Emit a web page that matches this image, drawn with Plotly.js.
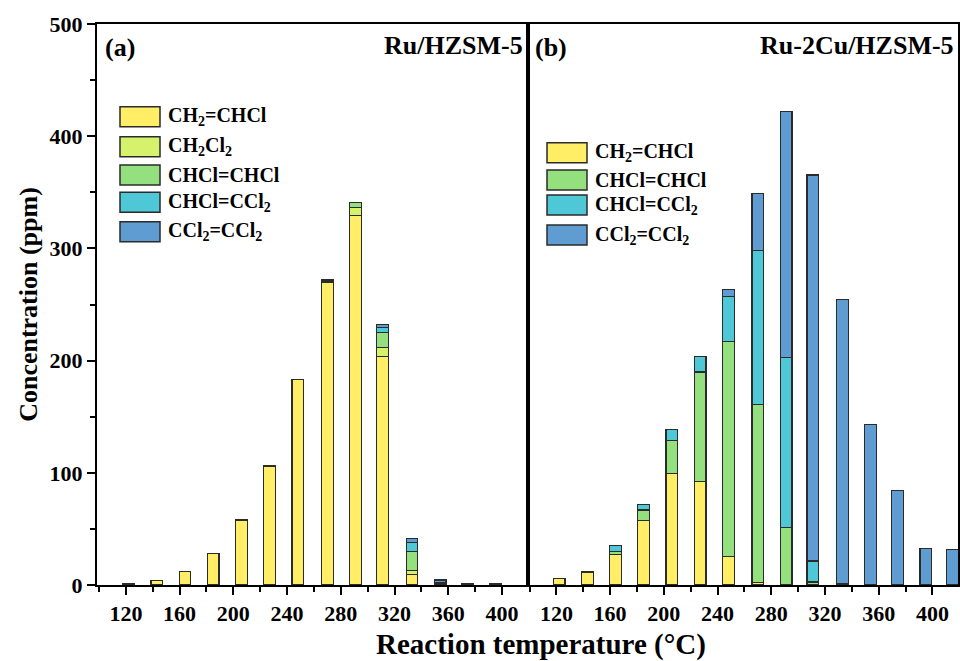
<!DOCTYPE html>
<html>
<head>
<meta charset="utf-8">
<script src="https://cdn.plot.ly/plotly-3.0.1.min.js"></script>
<style>html,body{margin:0;padding:0;background:#fff;}#chart{width:960px;height:661px;}</style>
</head>
<body>
<div id="chart"></div>
<script>
// Reaction temperatures (°C), bar positions
const temps = [122, 143, 164, 185, 206, 227, 248, 270, 291, 311, 333, 354, 374, 395, 415];

// Panel (a) Ru/HZSM-5, concentrations (ppm)
const a_CH2CHCl   = [1, 4, 12, 28, 58, 106, 183, 270, 329, 204, 9.5, 0, 0, 0, 0];
const a_CH2Cl2    = [0, 0, 0, 0, 0, 0, 0, 1, 7.4, 8, 3.6, 0, 0, 0, 0];
const a_CHClCHCl  = [0, 0, 0, 0, 0, 0, 0, 1.5, 4.5, 13.4, 16.6, 1, 0, 0, 0];
const a_CHClCCl2  = [0, 0, 0, 0, 0, 0, 0, 0, 0, 3.8, 8, 1.5, 0, 0, 0];
const a_CCl2CCl2  = [0, 0, 0, 0, 0, 0, 0, 0, 0, 3, 3.9, 2, 1.6, 1.3, 0];

// Panel (b) Ru-2Cu/HZSM-5, concentrations (ppm)
const b_CH2CHCl   = [6, 11, 27, 57.7, 99.2, 92.4, 25.6, 2, 0, 0, 0, 0, 0, 0, 0];
const b_CHClCHCl  = [0, 1.2, 3, 9.2, 29.5, 97.4, 191.6, 159, 51, 2.7, 0, 0, 0, 0, 0];
const b_CHClCCl2  = [0, 0, 5.5, 4.5, 10.1, 13.7, 40.1, 137.3, 151.8, 18.7, 1.2, 0, 0, 0, 0];
const b_CCl2CCl2  = [0, 0, 0, 0, 0, 0, 6.2, 50.8, 218.9, 344, 253.4, 142.9, 84.4, 32.4, 31.8];

const names = {
  CH2CHCl: 'CH<sub>2</sub>=CHCl',
  CH2Cl2: 'CH<sub>2</sub>Cl<sub>2</sub>',
  CHClCHCl: 'CHCl=CHCl',
  CHClCCl2: 'CHCl=CCl<sub>2</sub>',
  CCl2CCl2: 'CCl<sub>2</sub>=CCl<sub>2</sub>'
};
const colors = {
  CH2CHCl: '#FFEE66',
  CH2Cl2: '#D6F26C',
  CHClCHCl: '#94DF7E',
  CHClCCl2: '#4EC7D6',
  CCl2CCl2: '#5F9CD1'
};
const edge = '#2b2b2b';
const barW = 8.7;

function nz(arr){ return arr.map(v => v === 0 ? null : v); }
function bar(key, vals, xa, ya){
  return {
    type: 'bar', x: temps, y: nz(vals), name: names[key],
    xaxis: xa, yaxis: ya, width: barW, showlegend: false,
    marker: {color: colors[key], line: {color: edge, width: 1.2}},
    hoverinfo: 'x+y+name'
  };
}

const data = [
  bar('CH2CHCl', a_CH2CHCl, 'x', 'y'),
  bar('CH2Cl2', a_CH2Cl2, 'x', 'y'),
  bar('CHClCHCl', a_CHClCHCl, 'x', 'y'),
  bar('CHClCCl2', a_CHClCCl2, 'x', 'y'),
  bar('CCl2CCl2', a_CCl2CCl2, 'x', 'y'),
  bar('CH2CHCl', b_CH2CHCl, 'x2', 'y2'),
  bar('CHClCHCl', b_CHClCHCl, 'x2', 'y2'),
  bar('CHClCCl2', b_CHClCCl2, 'x2', 'y2'),
  bar('CCl2CCl2', b_CCl2CCl2, 'x2', 'y2')
];

// Layout helpers (pixel -> paper)
const L = 97, R = 2, T = 24, B = 76, W = 960, H = 661;
const PW = W - L - R, PH = H - T - B;
const px = x => (x - L) / PW;
const py = y => (H - B - y) / PH;

const serif = 'Liberation Serif, Times New Roman, serif';
const tickFont = {family: serif, size: 22, color: '#000', weight: 'bold'};

const xBase = {
  range: [98.5, 419], tick0: 0, dtick: 40, ticks: 'outside', ticklen: 8, tickwidth: 2,
  tickcolor: '#000', showline: true, linecolor: '#000', linewidth: 2, mirror: true,
  showgrid: false, zeroline: false, tickfont: tickFont,
  minor: {dtick: 20, ticks: 'outside', ticklen: 5, tickwidth: 2, tickcolor: '#000', showgrid: false}
};

const shapes = [];
const annotations = [];

function legend(items, x0, yCenters){
  items.forEach((k, i) => {
    const yc = yCenters[i];
    shapes.push({type: 'rect', xref: 'paper', yref: 'paper',
      x0: px(x0), x1: px(x0 + 40), y0: py(yc + 10), y1: py(yc - 10),
      fillcolor: colors[k], line: {color: edge, width: 1.5}});
    annotations.push({xref: 'paper', yref: 'paper', x: px(x0 + 46), y: py(yc),
      xanchor: 'left', yanchor: 'middle', showarrow: false, text: names[k],
      font: {family: serif, size: 20, color: '#000', weight: 'bold'}});
  });
}
legend(['CH2CHCl', 'CH2Cl2', 'CHClCHCl', 'CHClCCl2', 'CCl2CCl2'], 120, [116.7, 146.7, 175, 202.3, 231.7]);
legend(['CH2CHCl', 'CHClCHCl', 'CHClCCl2', 'CCl2CCl2'], 547, [152.7, 180, 205, 235]);

const labFont = {family: serif, size: 26, color: '#000', weight: 'bold'};
annotations.push({xref: 'paper', yref: 'paper', x: px(103), y: py(47), xanchor: 'left', yanchor: 'middle', showarrow: false, text: '(a)', font: labFont});
annotations.push({xref: 'paper', yref: 'paper', x: px(525), y: py(45), xanchor: 'right', yanchor: 'middle', showarrow: false, text: 'Ru/HZSM-5', font: labFont});
annotations.push({xref: 'paper', yref: 'paper', x: px(533), y: py(47), xanchor: 'left', yanchor: 'middle', showarrow: false, text: '(b)', font: labFont});
annotations.push({xref: 'paper', yref: 'paper', x: px(956), y: py(45), xanchor: 'right', yanchor: 'middle', showarrow: false, text: 'Ru-2Cu/HZSM-5', font: labFont});
// shared x-axis title
annotations.push({xref: 'paper', yref: 'paper', x: px(541), y: py(644), xanchor: 'center', yanchor: 'middle', showarrow: false,
  text: 'Reaction temperature (°C)', font: {family: serif, size: 29, color: '#000', weight: 'bold'}});

const layout = {
  width: W, height: H,
  margin: {l: L, r: R, t: T, b: B, pad: 0},
  paper_bgcolor: '#fff', plot_bgcolor: '#fff',
  barmode: 'stack', bargap: 0,
  showlegend: false,
  xaxis: Object.assign({}, xBase, {domain: [0, 0.5], anchor: 'y'}),
  xaxis2: Object.assign({}, xBase, {domain: [0.5, 1], anchor: 'y2'}),
  yaxis: {
    domain: [0, 1], range: [0, 500], dtick: 100, ticks: 'outside', ticklen: 8, tickwidth: 2,
    tickcolor: '#000', showline: true, linecolor: '#000', linewidth: 2, mirror: true,
    showgrid: false, zeroline: false, tickfont: tickFont, anchor: 'x',
    minor: {dtick: 50, ticks: 'outside', ticklen: 5, tickwidth: 2, tickcolor: '#000', showgrid: false},
    title: {text: 'Concentration (ppm)', standoff: 4, font: {family: serif, size: 26, color: '#000', weight: 'bold'}}
  },
  yaxis2: {
    domain: [0, 1], range: [0, 500], showticklabels: false, ticks: '',
    showline: true, linecolor: '#000', linewidth: 2, mirror: true,
    showgrid: false, zeroline: false, anchor: 'x2'
  },
  shapes: shapes,
  annotations: annotations
};

Plotly.newPlot('chart', data, layout, {displayModeBar: false, staticPlot: true});
</script>
</body>
</html>
